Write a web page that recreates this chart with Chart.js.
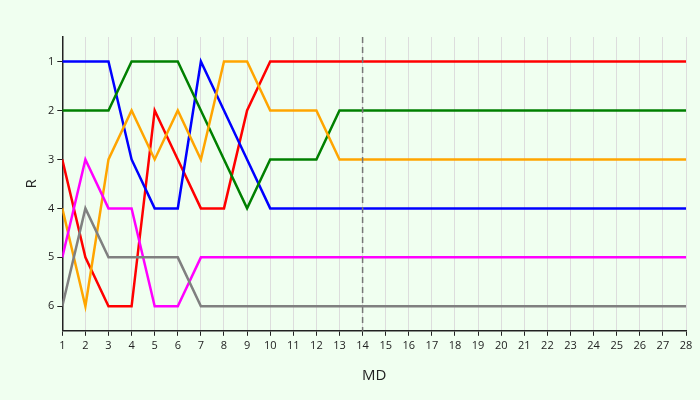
<!DOCTYPE html>
<html>
<head>
<meta charset="utf-8">
<script src="https://cdn.jsdelivr.net/npm/chart.js@4"></script>
<style>
  body { margin: 0; background: #f0fff0; }
  #wrap { width: 700px; height: 400px; }
</style>
</head>
<body>
<div id="wrap"><canvas id="chart"></canvas></div>
<script>
// matchdays 1..28
const matchdays = Array.from({ length: 28 }, (_, i) => i + 1);
const rankTicks = [1, 2, 3, 4, 5, 6];
const markerDay = 14;

const redRanks     = [3, 5, 6, 6, 2, 3, 4, 4, 2, 1];
const blueRanks    = [1, 1, 1, 3, 4, 4, 1, 2, 3, 4];
const greenRanks   = [2, 2, 2, 1, 1, 1, 2, 3, 4, 3, 3, 3, 2];
const orangeRanks  = [4, 6, 3, 2, 3, 2, 3, 1, 1, 2, 2, 2, 3];
const magentaRanks = [5, 3, 4, 4, 6, 6, 5];
const grayRanks    = [6, 4, 5, 5, 5, 5, 6];

function fullSeries(ranks) {
    let last = ranks[ranks.length - 1];
    return matchdays.map((d, i) => ({ x: d, y: i < ranks.length ? ranks[i] : last }));
}

function line(ranks, color) {
    return { data: fullSeries(ranks), borderColor: color, borderWidth: 2.5, pointRadius: 0, fill: false, tension: 0 };
}

// dashed vertical line at the marker matchday
const markerLine = {
    id: 'markerLine',
    afterDatasetsDraw(chart) {
        const { ctx, chartArea, scales } = chart;
        const x = scales.x.getPixelForValue(markerDay);
        ctx.save();
        ctx.strokeStyle = '#777';
        ctx.lineWidth = 1.5;
        ctx.setLineDash([6, 4]);
        ctx.beginPath();
        ctx.moveTo(x, chartArea.top);
        ctx.lineTo(x, chartArea.bottom);
        ctx.stroke();
        ctx.restore();
    }
};

new Chart(document.getElementById('chart'), {
    type: 'line',
    data: {
        datasets: [
            line(grayRanks, 'gray'),
            line(magentaRanks, 'magenta'),
            line(orangeRanks, 'orange'),
            line(greenRanks, 'green'),
            line(blueRanks, 'blue'),
            line(redRanks, 'red')
        ]
    },
    options: {
        responsive: true,
        maintainAspectRatio: false,
        animation: false,
        layout: { padding: { top: 37, right: 14, left: 19, bottom: 11 } },
        plugins: { legend: { display: false }, tooltip: { enabled: false } },
        scales: {
            x: {
                type: 'linear', min: 1, max: 28,
                ticks: { stepSize: 1, color: '#222', font: { family: 'Open Sans', size: 11 } },
                grid: { color: '#ddd', drawTicks: true, tickLength: 5, tickColor: '#222' },
                border: { color: '#222', width: 1.5 },
                title: { display: true, text: 'MD', color: '#222', font: { family: 'Open Sans', size: 15 }, padding: { top: 12 } }
            },
            y: {
                type: 'linear', min: 0.5, max: 6.5, reverse: true,
                afterBuildTicks(axis) { axis.ticks = rankTicks.map(v => ({ value: v })); },
                ticks: { color: '#222', font: { family: 'Open Sans', size: 11 } },
                grid: { drawOnChartArea: false, tickLength: 5, tickColor: '#222' },
                border: { color: '#222', width: 1.5 },
                title: { display: true, text: 'R', color: '#222', font: { family: 'Open Sans', size: 15 } }
            }
        }
    },
    plugins: [markerLine]
});
</script>
</body>
</html>
